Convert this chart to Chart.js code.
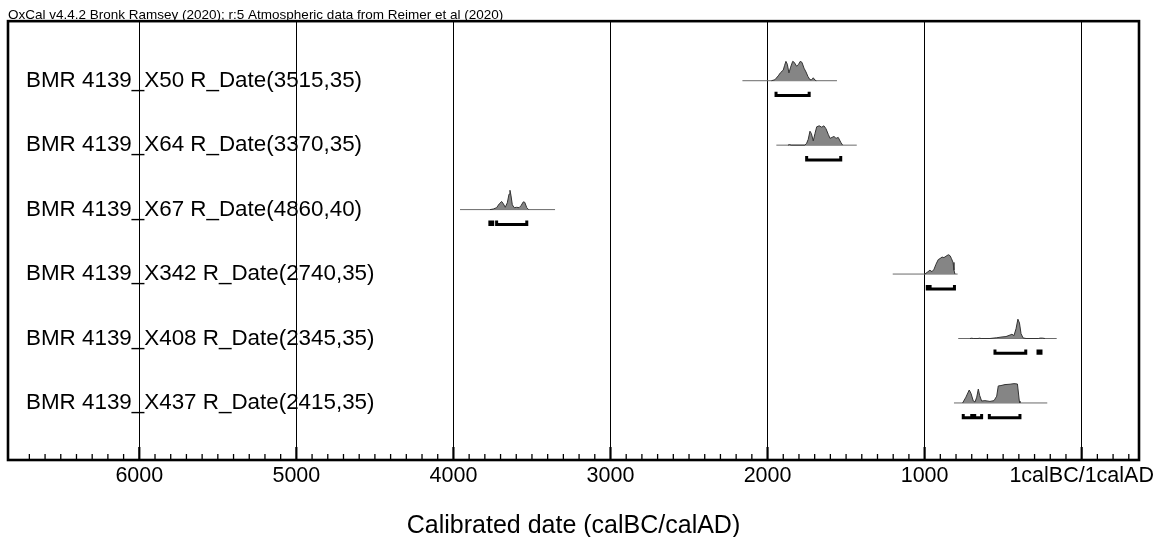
<!DOCTYPE html>
<html>
<head>
<meta charset="utf-8">
<script src="https://cdn.jsdelivr.net/npm/chart.js@4.4.1/dist/chart.umd.min.js"></script>
<style>
  html, body { margin: 0; padding: 0; background: #fff; }
  #wrap { width: 1161px; height: 537px; position: relative; }
</style>
</head>
<body>
<div id="wrap"><canvas id="oxcal"></canvas></div>
<script>
const FONT = '"Liberation Sans", Arial, Helvetica, sans-serif';

const headerText = 'OxCal v4.4.2 Bronk Ramsey (2020); r:5 Atmospheric data from Reimer et al (2020)';
const axisTitle = 'Calibrated date (calBC/calAD)';

const rowLabels = [
    'BMR 4139_X50 R_Date(3515,35)',
    'BMR 4139_X64 R_Date(3370,35)',
    'BMR 4139_X67 R_Date(4860,40)',
    'BMR 4139_X342 R_Date(2740,35)',
    'BMR 4139_X408 R_Date(2345,35)',
    'BMR 4139_X437 R_Date(2415,35)'
];

// major axis ticks (years cal BC, 0 = 1calBC/1calAD)
const majorTicks = [6000, 5000, 4000, 3000, 2000, 1000, 0];

// posterior shapes: years cal BC and relative probability
const x50Years = [1975, 1953, 1932, 1917, 1900, 1891, 1883, 1874, 1864, 1853, 1840, 1830, 1815, 1802, 1792, 1781, 1768, 1755, 1743, 1730, 1719, 1709, 1698, 1690];
const x50Prob  = [0, 0.05, 0.25, 0.42, 0.55, 0.8, 1.0, 0.85, 0.4, 0.7, 1.0, 0.95, 0.75, 0.85, 1.0, 0.95, 0.65, 0.45, 0.22, 0.05, 0.05, 0.15, 0.03, 0];

const x64Years = [1870, 1860, 1850, 1762, 1751, 1741, 1730, 1721, 1709, 1698, 1687, 1671, 1655, 1641, 1628, 1613, 1602, 1590, 1577, 1564, 1550, 1534, 1522];
const x64Prob  = [0, 0.03, 0, 0, 0.1, 0.3, 0.72, 0.6, 0.22, 0.6, 0.95, 1.0, 0.93, 1.0, 0.85, 0.55, 0.35, 0.4, 0.45, 0.35, 0.4, 0.15, 0];

const x67Years = [3767, 3746, 3725, 3708, 3693, 3682, 3670, 3657, 3646, 3640, 3634, 3625, 3613, 3597, 3582, 3570, 3555, 3546, 3533, 3521];
const x67Prob  = [0, 0.03, 0.1, 0.3, 0.42, 0.3, 0.12, 0.35, 0.8, 1.0, 0.75, 0.25, 0.1, 0.12, 0.1, 0.2, 0.4, 0.38, 0.1, 0];

const x342Years = [998, 979, 966, 953, 940, 928, 913, 902, 889, 877, 864, 849, 838, 829, 819, 813, 807];
const x342Prob  = [0, 0.12, 0.2, 0.12, 0.25, 0.5, 0.75, 0.8, 0.88, 0.85, 0.92, 1.0, 0.95, 0.8, 0.6, 0.2, 0];

const x408Years = [711, 700, 690, 660, 650, 640, 584, 541, 507, 482, 456, 444, 431, 418, 406, 396, 386, 373, 354, 275, 265, 250, 234];
const x408Prob  = [0, 0.015, 0, 0, 0.015, 0, 0, 0.04, 0.08, 0.1, 0.18, 0.22, 0.15, 0.5, 1.0, 0.8, 0.25, 0.03, 0, 0, 0.02, 0.02, 0];

const x437Years = [758, 737, 716, 705, 690, 679, 668, 658, 650, 637, 616, 584, 558, 541, 531, 514, 488, 456, 431, 409, 397, 393];
const x437Prob  = [0, 0.3, 0.67, 0.5, 0.1, 0.05, 0.3, 0.72, 0.4, 0.1, 0.12, 0.08, 0.12, 0.35, 0.88, 0.9, 0.95, 0.97, 1.0, 0.98, 0.1, 0];

// plotted span of each likelihood (baseline line), years cal BC
const spanStart = [2160, 1944, 3958, 1203, 786, 813];
const spanEnd   = [1558, 1432, 3353, 790, 159, 219];

// 95.4% ranges
const x50Ranges  = [[1946, 1735]];
const x64Ranges  = [[1751, 1534]];
const x67Ranges  = [[3768, 3750], [3725, 3533]];
const x342Ranges = [[983, 972], [965, 810]];
const x408Ranges = [[552, 356], [278, 259]];
const x437Ranges = [[754, 700], [681, 637], [588, 393]];

const shapes = [
    [x50Years, x50Prob], [x64Years, x64Prob], [x67Years, x67Prob],
    [x342Years, x342Prob], [x408Years, x408Prob], [x437Years, x437Prob]
];
const ranges = [x50Ranges, x64Ranges, x67Ranges, x342Ranges, x408Ranges, x437Ranges];

const PEAK = 0.3;      // height of the tallest peak in row units
const BR_LOW = 0.23;   // bracket bar below baseline
const BR_TIP = 0.17;   // bracket end tips

const datasets = [];
shapes.forEach(([years, prob], i) => {
    const row = i + 1;
    datasets.push({
        data: years.map((y, j) => ({ x: y, y: row - prob[j] * PEAK })),
        borderColor: '#333',
        borderWidth: 1,
        backgroundColor: '#858585',
        fill: { value: row }
    });
    datasets.push({
        data: [{ x: spanStart[i], y: row }, { x: spanEnd[i], y: row }],
        borderColor: '#6a6a6a',
        borderWidth: 1,
        fill: false
    });
    const br = [];
    ranges[i].forEach(([a, b]) => {
        br.push({ x: a, y: row + BR_TIP }, { x: a, y: row + BR_LOW },
                { x: b, y: row + BR_LOW }, { x: b, y: row + BR_TIP }, { x: b, y: null });
    });
    datasets.push({
        data: br,
        borderColor: '#000',
        borderWidth: 3,
        borderCapStyle: 'butt',
        borderJoinStyle: 'miter',
        fill: false,
        spanGaps: false
    });
});

const minorTicks = [];
for (let v = 6700; v >= -300; v -= 100) {
    if (v % 1000 !== 0) minorTicks.push(v);
}

const framePlugin = {
    id: 'frame',
    afterDraw(chart) {
        const { ctx, chartArea: a } = chart;
        const x = chart.scales.x;
        ctx.save();
        ctx.strokeStyle = '#000';
        ctx.lineWidth = 1.3;
        minorTicks.forEach(v => {
            const px = x.getPixelForValue(v);
            ctx.beginPath();
            ctx.moveTo(px, a.bottom);
            ctx.lineTo(px, a.bottom - 6);
            ctx.stroke();
        });
        ctx.lineWidth = 2.2;
        majorTicks.forEach(v => {
            const px = x.getPixelForValue(v);
            ctx.beginPath();
            ctx.moveTo(px, a.bottom);
            ctx.lineTo(px, a.bottom - 13);
            ctx.stroke();
        });
        ctx.lineWidth = 2.6;
        ctx.strokeRect(a.left, a.top, a.right - a.left, a.bottom - a.top);
        ctx.restore();
    }
};

new Chart(document.getElementById('oxcal').getContext('2d'), {
    type: 'line',
    data: { datasets },
    options: {
        responsive: true,
        maintainAspectRatio: false,
        animation: false,
        layout: { padding: { left: 8, right: 22, top: 0, bottom: 0 } },
        elements: { point: { radius: 0, hoverRadius: 0 }, line: { tension: 0 } },
        plugins: {
            legend: { display: false },
            tooltip: { enabled: false },
            title: {
                display: true,
                text: headerText,
                align: 'start',
                color: '#000',
                font: { family: FONT, size: 13.5, weight: 'normal', lineHeight: 0.9 },
                padding: { top: 9, bottom: 0 }
            }
        },
        scales: {
            x: {
                type: 'linear',
                reverse: true,
                min: -365,
                max: 6836,
                afterBuildTicks: s => { s.ticks = majorTicks.map(v => ({ value: v })); },
                afterFit: s => { s.height = 77; s.paddingLeft = 0; s.paddingRight = 0; },
                grid: { color: '#000', lineWidth: 1, drawTicks: false },
                border: { display: false },
                ticks: {
                    color: '#000',
                    font: { family: FONT, size: 21.5 },
                    padding: 3,
                    maxRotation: 0,
                    autoSkip: false,
                    callback: v => v === 0 ? '1calBC/1calAD' : String(v)
                },
                title: {
                    display: true,
                    text: axisTitle,
                    color: '#000',
                    font: { family: FONT, size: 25, lineHeight: 0.88 },
                    padding: 0
                }
            },
            y: {
                type: 'linear',
                reverse: true,
                min: 0.076,
                max: 6.885,
                afterBuildTicks: s => { s.ticks = rowLabels.map((_, i) => ({ value: i + 1 })); },
                afterFit: s => { s.width = 0; s.paddingTop = 0; s.paddingBottom = 0; },
                grid: { display: false },
                border: { display: false },
                ticks: {
                    mirror: true,
                    padding: 18,
                    color: '#000',
                    autoSkip: false,
                    font: { family: FONT, size: 22.4 },
                    callback: (v, i) => rowLabels[i]
                }
            }
        }
    },
    plugins: [framePlugin]
});
</script>
</body>
</html>
